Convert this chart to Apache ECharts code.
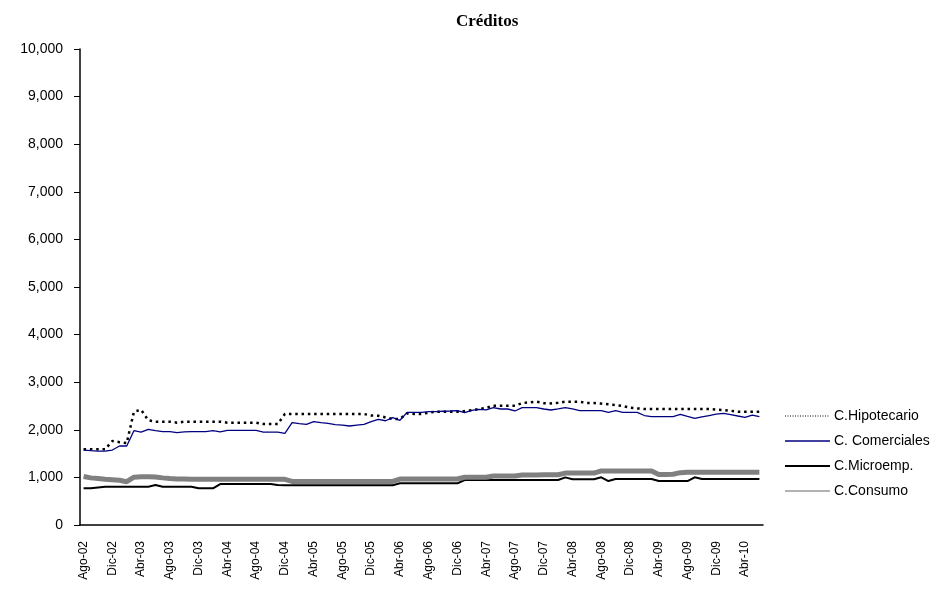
<!DOCTYPE html>
<html>
<head>
<meta charset="utf-8">
<script src="https://cdn.jsdelivr.net/npm/echarts@6/dist/echarts.min.js"></script>
<style>
  html, body { margin: 0; padding: 0; background: #ffffff; }
  #chart { width: 947px; height: 594px; }
</style>
</head>
<body>
<div id="chart"></div>
<script>
// Monthly series, Ago-02 through Jun-10 (95 months)
const monthNames = ['Ene', 'Feb', 'Mar', 'Abr', 'May', 'Jun', 'Jul', 'Ago', 'Sep', 'Oct', 'Nov', 'Dic'];
const startMonth = 7;   // Ago
const startYear = 2;    // 2002
const monthCount = 95;

const categories = [];
for (let k = 0; k < monthCount; k++) {
  const m = (startMonth + k) % 12;
  const y = startYear + Math.floor((startMonth + k) / 12);
  categories.push(monthNames[m] + '-' + String(y).padStart(2, '0'));
}

const seriesNames = ['C.Hipotecario', 'C. Comerciales', 'C.Microemp.', 'C.Consumo'];

const hipotecario = [
  1590, 1590, 1590, 1590, 1765, 1740, 1720, 2380, 2420, 2200,
  2170, 2170, 2170, 2150, 2170, 2170, 2170, 2170, 2170, 2170,
  2150, 2150, 2150, 2150, 2150, 2122, 2122, 2122, 2332, 2332,
  2332, 2332, 2332, 2332, 2332, 2332, 2332, 2332, 2332, 2332,
  2300, 2297, 2260, 2227, 2227, 2346, 2332, 2332, 2360, 2381,
  2381, 2381, 2381, 2395, 2410, 2437, 2460, 2507, 2507, 2507,
  2507, 2560, 2577, 2590, 2560, 2555, 2570, 2590, 2590, 2590,
  2563, 2563, 2550, 2535, 2521, 2500, 2465, 2450, 2437, 2437,
  2437, 2437, 2437, 2437, 2437, 2437, 2437, 2437, 2425, 2416,
  2400, 2381, 2381, 2381, 2381
];

const comerciales = [
  1575, 1562, 1550, 1550, 1575, 1660, 1660, 1981, 1953, 2010,
  1981, 1960, 1960, 1940, 1955, 1960, 1961, 1961, 1981, 1955,
  1989, 1989, 1989, 1989, 1989, 1953, 1953, 1953, 1926, 2150,
  2130, 2115, 2170, 2150, 2136, 2110, 2100, 2080, 2100, 2115,
  2170, 2220, 2190, 2255, 2200, 2367, 2367, 2367, 2380, 2380,
  2390, 2395, 2402, 2360, 2410, 2430, 2420, 2465, 2437, 2437,
  2395, 2465, 2465, 2465, 2437, 2416, 2440, 2465, 2440, 2402,
  2402, 2402, 2402, 2367, 2402, 2367, 2367, 2367, 2300, 2276,
  2276, 2276, 2276, 2325, 2280, 2240, 2270, 2300, 2330, 2346,
  2320, 2290, 2262, 2310, 2276
];

const microemp = [
   770,  770,  790,  805,  805,  805,  805,  805,  805,  805,
   840,  805,  805,  805,  805,  805,  770,  770,  770,  860,
   860,  860,  860,  860,  860,  860,  860,  840,  835,  835,
   835,  835,  835,  835,  835,  835,  835,  835,  835,  835,
   835,  835,  835,  835,  876,  876,  876,  876,  876,  876,
   876,  876,  876,  945,  945,  945,  945,  945,  945,  945,
   945,  945,  945,  945,  945,  945,  945, 1000,  960,  960,
   960,  960, 1002,  924,  966,  966,  966,  966,  966,  966,
   924,  924,  924,  924,  924, 1002,  966,  966,  966,  966,
   966,  966,  966,  966,  966
];

const consumo = [
  1020,  990,  975,  960,  950,  940,  910, 1005, 1015, 1015,
  1010,  990,  975,  965,  965,  960,  960,  960,  960,  960,
   960,  960,  960,  960,  960,  960,  960,  960,  960,  915,
   915,  915,  915,  915,  915,  915,  915,  915,  915,  915,
   915,  915,  915,  915,  966,  966,  966,  966,  966,  966,
   966,  966,  966, 1002, 1002, 1002, 1002, 1029, 1029, 1029,
  1029, 1050, 1050, 1050, 1055, 1055, 1055, 1090, 1090, 1090,
  1090, 1090, 1135, 1135, 1135, 1135, 1135, 1135, 1135, 1135,
  1060, 1060, 1065, 1100, 1110, 1110, 1110, 1110, 1110, 1110,
  1110, 1110, 1110, 1110, 1110
];

const yTicks = { min: 0, max: 10000, step: 1000 };

const sansFont = 'Arial, "Liberation Sans", sans-serif';
const serifFont = '"Times New Roman", "Liberation Serif", serif';

const chart = echarts.init(document.getElementById('chart'), null, { renderer: 'canvas' });

// Legend keys show only the line sample (no marker)
const hiddenMarker = { opacity: 0 };

chart.setOption({
  animation: false,
  backgroundColor: '#ffffff',
  title: {
    text: 'Créditos',
    left: 451,
    top: 8,
    textStyle: { fontFamily: serifFont, fontWeight: 'bold', fontSize: 17, color: '#000000' }
  },
  grid: { left: 80, right: 184, top: 49, bottom: 69, containLabel: false },
  legend: {
    orient: 'vertical',
    left: 784,
    top: 409,
    padding: 0,
    itemWidth: 45,
    itemHeight: 14,
    itemGap: 11,
    textStyle: { fontFamily: sansFont, fontSize: 14, color: '#000000', padding: [0, 0, 0, -1] },
    data: [
      { name: seriesNames[0], itemStyle: hiddenMarker, lineStyle: { width: 1, type: [1, 1.5] } },
      { name: seriesNames[1], itemStyle: hiddenMarker, lineStyle: { width: 1.3 } },
      { name: seriesNames[2], itemStyle: hiddenMarker, lineStyle: { width: 2 } },
      { name: seriesNames[3], itemStyle: hiddenMarker, lineStyle: { width: 1.5, color: '#999999' } }
    ]
  },
  xAxis: {
    type: 'category',
    data: categories,
    boundaryGap: true,
    axisLine: { lineStyle: { color: '#000000', width: 1.5 } },
    axisTick: { interval: 3, length: 5, lineStyle: { color: '#000000', width: 1 } },
    axisLabel: {
      interval: 3,
      rotate: 90,
      margin: 16,
      fontFamily: sansFont,
      fontSize: 12,
      color: '#000000'
    },
    splitLine: { show: false }
  },
  yAxis: {
    type: 'value',
    min: yTicks.min,
    max: yTicks.max,
    interval: yTicks.step,
    axisLine: { show: true, lineStyle: { color: '#000000', width: 1.5 } },
    axisTick: { show: true, length: 6, lineStyle: { color: '#000000', width: 1 } },
    axisLabel: {
      margin: 17,
      fontFamily: sansFont,
      fontSize: 14,
      color: '#000000',
      formatter: v => v.toLocaleString('en-US')
    },
    splitLine: { show: false }
  },
  series: [
    {
      name: seriesNames[0], type: 'line', data: hipotecario, symbol: 'none',
      lineStyle: { color: '#000000', width: 2.5, type: [2.5, 3.8] },
      itemStyle: { color: '#000000' }
    },
    {
      name: seriesNames[1], type: 'line', data: comerciales, symbol: 'none',
      lineStyle: { color: '#000080', width: 1.3 },
      itemStyle: { color: '#000080' }
    },
    {
      name: seriesNames[2], type: 'line', data: microemp, symbol: 'none',
      lineStyle: { color: '#000000', width: 2 },
      itemStyle: { color: '#000000' }
    },
    {
      name: seriesNames[3], type: 'line', data: consumo, symbol: 'none',
      lineStyle: { color: '#808080', width: 5 },
      itemStyle: { color: '#999999' }
    }
  ]
});
</script>
</body>
</html>
